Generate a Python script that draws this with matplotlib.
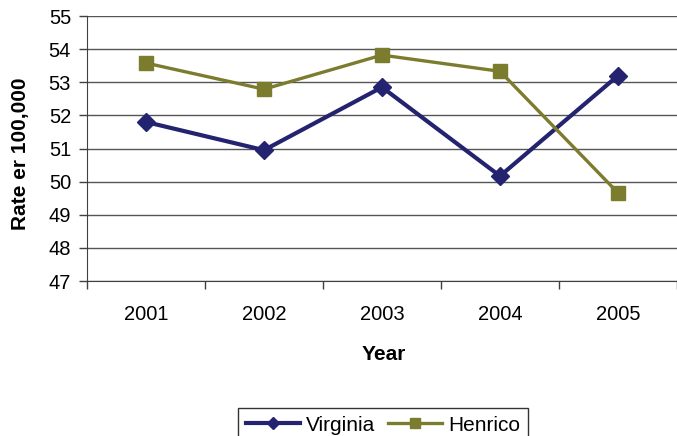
import matplotlib
matplotlib.use('Agg')
import matplotlib.pyplot as plt

# data
years = ['2001', '2002', '2003', '2004', '2005']
virginia = [51.8, 50.95, 52.85, 50.17, 53.2]
henrico = [53.58, 52.79, 53.82, 53.33, 49.66]

plt.rcParams['font.family'] = ['Liberation Sans', 'DejaVu Sans']

fig = plt.figure(figsize=(6.77, 4.36), dpi=100)
ax = fig.add_axes([87 / 677, 1 - 281 / 436, 590 / 677, 265 / 436])

x = list(range(len(years)))
ax.plot(x, virginia, color='#232370', linewidth=3, marker='D', markersize=9,
        markeredgewidth=1, label='Virginia')
ax.plot(x, henrico, color='#7C7C2E', linewidth=2.4, marker='s', markersize=10,
        markeredgewidth=1, label='Henrico')

# axes ranges and ticks
ax.set_ylim(47, 55)
ax.set_yticks(range(47, 56))
ax.set_xlim(-0.5, 4.46)
ax.set_xticks(x)
ax.set_xticklabels(years)
ax.set_xticks([i - 0.5 for i in range(len(years) + 1)], minor=True)
ax.tick_params(axis='x', which='major', length=0, pad=17, labelsize=14.5)
ax.tick_params(axis='x', which='minor', length=6, width=1, color='#404040')
ax.tick_params(axis='y', length=6, width=1, color='#404040', pad=5.5, labelsize=14.5)

ax.grid(axis='y', color='#555555', linewidth=1)
ax.set_axisbelow(True)
for s in ['top', 'right']:
    ax.spines[s].set_visible(False)
ax.spines['left'].set_color('#404040')
ax.spines['bottom'].set_color('#404040')

ax.set_ylabel('Rate er 100,000', fontsize=15, fontweight='bold')
ax.yaxis.set_label_coords(-0.097, 0.48)
ax.set_xlabel('Year', fontsize=15, fontweight='bold', va='top')
ax.xaxis.set_label_coords(0.503, -0.24)

leg = fig.legend(loc='upper center', bbox_to_anchor=(383 / 677, 1 - 398 / 436), ncol=2,
                 fontsize=15, frameon=True, fancybox=False, edgecolor='black',
                 handlelength=2.6, columnspacing=0.6, handletextpad=0.3,
                 borderpad=0.35, markerscale=0.7)
leg.get_frame().set_linewidth(1)

fig.savefig('out.png', dpi=100)
